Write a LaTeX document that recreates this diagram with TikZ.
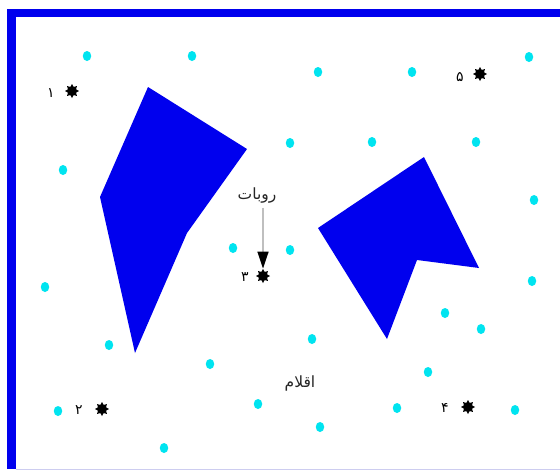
\documentclass[tikz,border=0pt]{standalone}
\usepackage{fontspec}
\newfontfamily\arabicfont[Script=Arabic]{DejaVu Sans}
\TeXXeTstate=1
\usetikzlibrary{shapes.geometric,arrows.meta}
\definecolor{dotcyan}{RGB}{0,228,240}
\definecolor{polyblue}{RGB}{0,0,238}
\definecolor{framelav}{RGB}{205,205,240}
\begin{document}
\begin{tikzpicture}[x=1pt,y=-1pt,
  dot/.style={ellipse,fill=dotcyan,minimum width=8.5pt,minimum height=10pt,inner sep=0pt},
  robotstar/.style={star,star points=8,star point ratio=1.6,fill=black,minimum size=14pt,inner sep=0pt},
  numlabel/.style={font=\arabicfont\fontsize{14}{14}\selectfont,inner sep=0pt},
  wordlabel/.style={font=\arabicfont\fontsize{15.5}{15.5}\selectfont,inner sep=0pt,text=black!85}]
\useasboundingbox (0,0) rectangle (560,472);
\fill[white] (0,0) rectangle (560,472);
% frame
\fill[polyblue] (7,9) rectangle (560,17);
\fill[polyblue] (7,9) rectangle (16,469);
\draw[framelav,line width=1.5pt] (16,469.5) -- (560,469.5);
% obstacles
\fill[polyblue] (148,87) -- (247,149) -- (187,233) -- (135,353) -- (100,197) -- cycle;
\fill[polyblue] (424,157) -- (479,268) -- (417,260) -- (387,339) -- (318,228) -- cycle;
% items
\foreach \p [count=\i] in {(87,56),(192,56),(318,72),(412,72),(529,57),(63,170),(290,143),(372,142),(476,142),(534,200),(233,248),(290,250),(45,287),(532,281),(109,345),(210,364),(312,339),(445,313),(481,329),(428,372),(258,404),(320,427),(397,408),(515,410),(58,411),(164,448)}
  \node[dot] (d\i) at \p {};
% robots
\node[robotstar] (s1) at (72,91) {};
\node[robotstar] (s2) at (102,409) {};
\node[robotstar] (s3) at (263,276) {};
\node[robotstar] (s4) at (468,407) {};
\node[robotstar] (s5) at (480,74) {};
\node[numlabel] (n1) at (51,93) {\beginR ۱\endR};
\node[numlabel] (n2) at (79,410) {\beginR ۲\endR};
\node[numlabel] (n3) at (245,277) {\beginR ۳\endR};
\node[numlabel] (n4) at (445,408) {\beginR ۴\endR};
\node[numlabel] (n5) at (460,77) {\beginR ۵\endR};
% labels
\node[wordlabel] (robot) at (257,195) {\beginR روبات\endR};
\node[wordlabel] (items) at (300,383) {\beginR اقلام\endR};
\draw[black!25,line width=1.6pt,shorten <=5pt,-{Triangle[length=17pt,width=11pt,color=black]}] (robot.south -| s3) -- (s3.north);
\end{tikzpicture}
\end{document}
